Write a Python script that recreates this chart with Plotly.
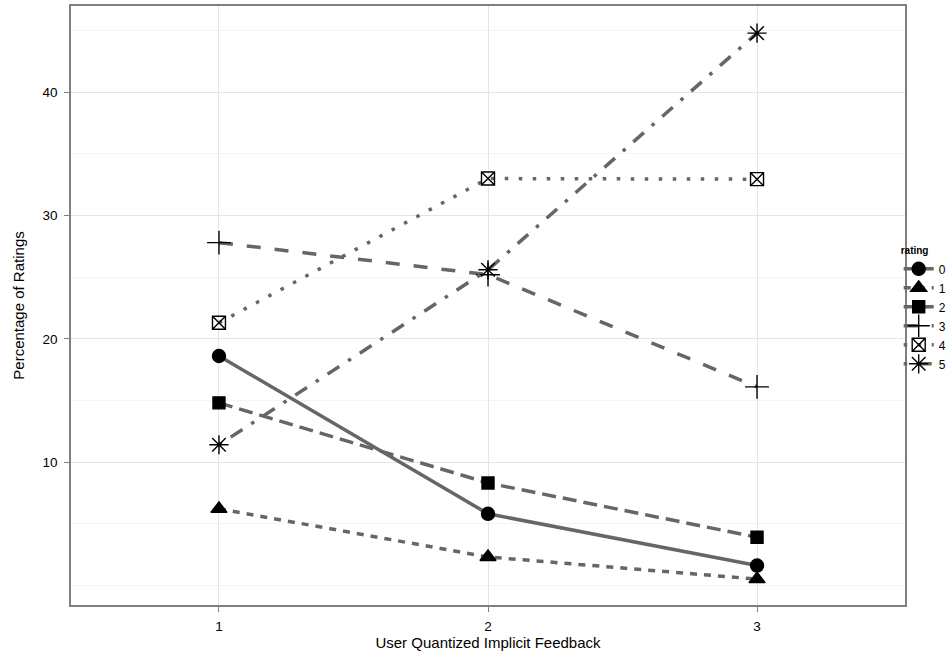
import plotly.graph_objects as go

feedback = [1, 2, 3]
ratings = ["0", "1", "2", "3", "4", "5"]
pct_0 = [18.6, 5.8, 1.6]
pct_1 = [6.2, 2.3, 0.5]
pct_2 = [14.8, 8.3, 3.9]
pct_3 = [27.8, 25.2, 16.1]
pct_4 = [21.3, 33.0, 32.95]
pct_5 = [11.4, 25.6, 44.8]
series = [pct_0, pct_1, pct_2, pct_3, pct_4, pct_5]

y_ticks = [10, 20, 30, 40]
y_minor = [0, 5, 15, 25, 35, 45]

dashes = ["solid", "7px,7px", "14px,7px", "14px,14px", "3.5px,10.5px", "3.5px,10.5px,14px,10.5px"]
symbols = ["circle", "triangle-up", "square", "cross-thin-open", "square-x-open", "asterisk-open"]
msizes = [13, 14, 12, 17, 13, 16]

fig = go.Figure()
for name, vals, dash, sym, ms in zip(ratings, series, dashes, symbols, msizes):
    fig.add_trace(go.Scatter(
        x=feedback, y=vals, name=name, mode="lines+markers",
        line=dict(color="#666666", width=3.5, dash=dash),
        marker=dict(symbol=sym, size=ms, color="black",
                    line=dict(color="black", width=1.4)),
    ))

font_family = "Liberation Sans, Arial, sans-serif"
fig.update_layout(
    width=951, height=655,
    margin=dict(l=71, r=46, t=6, b=50, autoexpand=False),
    paper_bgcolor="white", plot_bgcolor="white",
    font=dict(family=font_family, color="black", size=13),
    showlegend=True,
    legend=dict(
        title=dict(text="<b>rating</b>", font=dict(size=10)),
        xref="container", yref="container",
        x=0.945, xanchor="left", y=0.527, yanchor="middle",
        font=dict(size=12), itemwidth=30, tracegroupgap=0,
        bgcolor="rgba(0,0,0,0)",
    ),
    xaxis=dict(
        range=[0.45, 3.55], tickvals=[1, 2, 3], ticktext=["1", "2", "3"],
        showgrid=True, gridcolor="#e5e5e5", gridwidth=1,
        zeroline=False, ticks="outside", ticklen=5, tickcolor="#7f7f7f",
        ticklabelstandoff=3,
        showline=True, linecolor="#7f7f7f", linewidth=1.5, mirror=True,
        title=dict(text="User Quantized Implicit Feedback", font=dict(size=15), standoff=0),
        tickfont=dict(size=13.5),
    ),
    yaxis=dict(
        range=[-1.6, 47.0], tickvals=y_ticks,
        showgrid=True, gridcolor="#e5e5e5", gridwidth=1,
        minor=dict(tickvals=y_minor, showgrid=True, gridcolor="#f5f5f5", ticklen=0),
        zeroline=False, ticks="outside", ticklen=5, tickcolor="#7f7f7f",
        ticklabelstandoff=4,
        showline=True, linecolor="#7f7f7f", linewidth=1.5, mirror=True,
        title=dict(text="Percentage of Ratings", font=dict(size=15), standoff=14),
        tickfont=dict(size=13.5),
    ),
)

fig.write_html("out.html", config={"displayModeBar": False},
               post_script="document.body.style.margin='0';")
